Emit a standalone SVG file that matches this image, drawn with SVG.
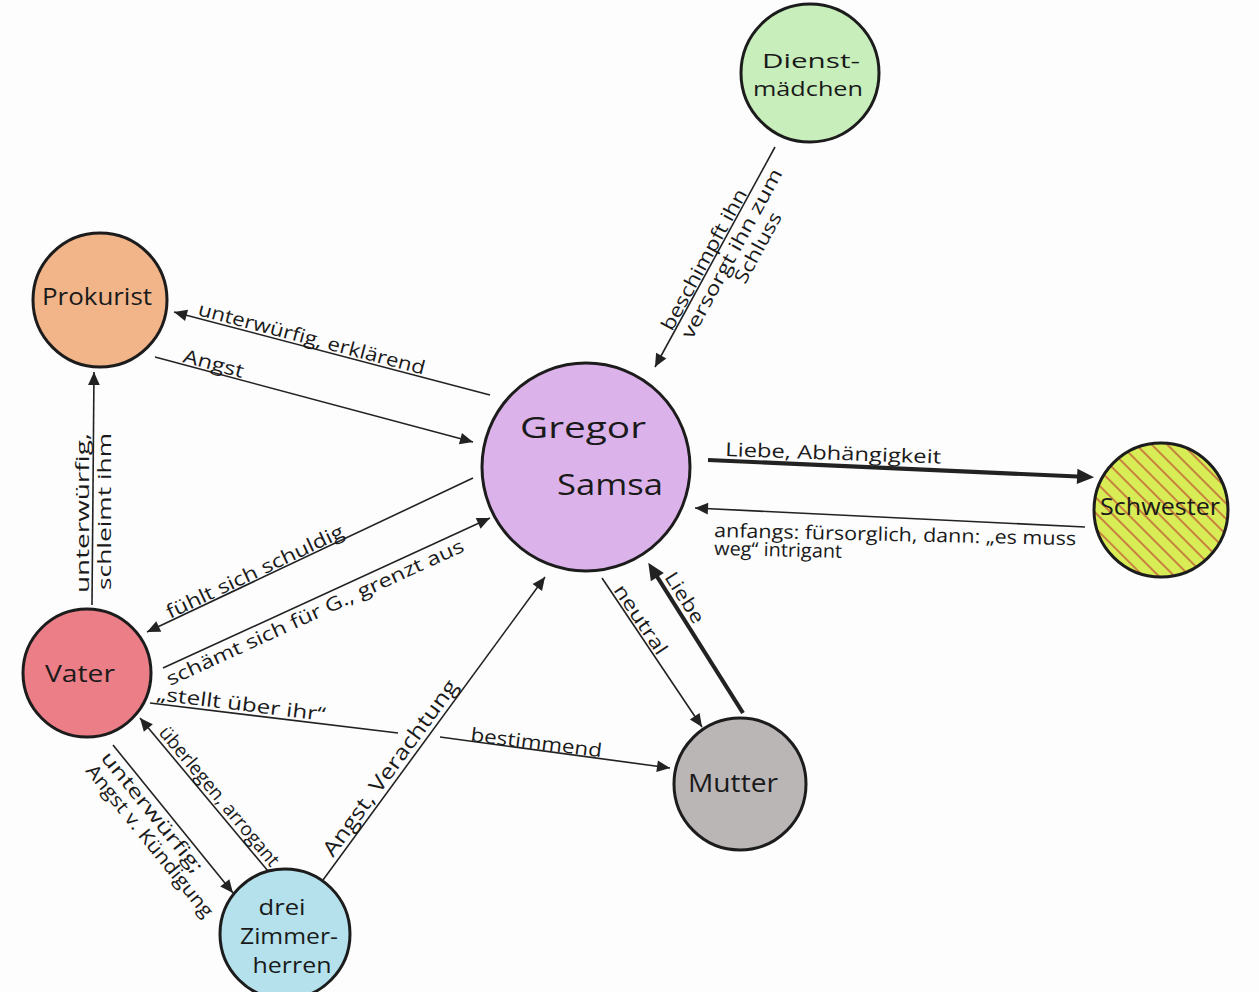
<svg xmlns="http://www.w3.org/2000/svg" width="1259" height="992" viewBox="0 0 1259 992">
<style>
.node{stroke:#1c1c1c;stroke-width:3}
.nl{font-family:"Open Sans","Liberation Sans",sans-serif;fill:#1a1a1a}
.el{font-family:"Open Sans","Liberation Sans",sans-serif;font-size:19px;fill:#1a1a1a}
.ln{stroke:#222;stroke-width:1.6;fill:none}
.thick{stroke:#222;stroke-width:4.2;fill:none}
</style>
<defs>
<marker id="ah" viewBox="0 0 10 10" refX="10" refY="5" markerWidth="16" markerHeight="13" markerUnits="userSpaceOnUse" orient="auto">
<path d="M0,0.5 L10,5 L0,9.5 z" fill="#222"/>
</marker>
<marker id="ahb" viewBox="0 0 10 10" refX="7" refY="5" markerWidth="20" markerHeight="17" markerUnits="userSpaceOnUse" orient="auto">
<path d="M0,0.5 L10,5 L0,9.5 z" fill="#222"/>
</marker>
<pattern id="hatch" width="11" height="11" patternUnits="userSpaceOnUse" patternTransform="rotate(-45)">
<line x1="5" y1="0" x2="5" y2="11" stroke="#c4673a" stroke-width="1.6"/>
</pattern>
</defs>
<rect width="1259" height="992" fill="#fdfdfd"/>

<g id="connectors">
<line class="ln" x1="775" y1="147" x2="655" y2="367" marker-end="url(#ah)"/>
<line class="ln" x1="490" y1="395" x2="174" y2="312" marker-end="url(#ah)"/>
<line class="ln" x1="155" y1="357" x2="473" y2="442" marker-end="url(#ah)"/>
<line class="ln" x1="92" y1="605" x2="94" y2="372" marker-end="url(#ah)"/>
<line class="ln" x1="473" y1="478" x2="147" y2="632" marker-end="url(#ah)"/>
<line class="ln" x1="163" y1="668" x2="490" y2="518" marker-end="url(#ah)"/>
<line class="ln" x1="150" y1="703" x2="398" y2="733"/>
<line class="ln" x1="440" y1="737" x2="670" y2="768" marker-end="url(#ah)"/>
<line class="ln" x1="323" y1="880" x2="545" y2="577" marker-end="url(#ah)"/>
<line class="ln" x1="113" y1="745" x2="233" y2="893" marker-end="url(#ah)"/>
<line class="ln" x1="273" y1="877" x2="140" y2="718" marker-end="url(#ah)"/>
<line class="ln" x1="602" y1="578" x2="702" y2="727" marker-end="url(#ah)"/>
<line class="thick" x1="743" y1="713" x2="651" y2="567" marker-end="url(#ahb)"/>
<line class="thick" x1="708" y1="460" x2="1089" y2="477" marker-end="url(#ahb)"/>
<line class="ln" x1="1085" y1="527" x2="695" y2="508" marker-end="url(#ah)"/>

<text class="el" x="672" y="332" transform="rotate(-61.4 672 332)" textLength="158" lengthAdjust="spacingAndGlyphs">beschimpft ihn</text>
<text class="el" x="692" y="340" transform="rotate(-61.4 692 340)" textLength="190" lengthAdjust="spacingAndGlyphs">versorgt ihn zum</text>
<text class="el" x="745" y="285" transform="rotate(-61.4 745 285)" textLength="78" lengthAdjust="spacingAndGlyphs">Schluss</text>

<text class="el" x="197" y="315" transform="rotate(14.8 197 315)" textLength="234" lengthAdjust="spacingAndGlyphs">unterwürfig, erklärend</text>
<text class="el" x="182" y="362" transform="rotate(15 182 362)" textLength="62" lengthAdjust="spacingAndGlyphs">Angst</text>

<text class="el" x="89" y="593" transform="rotate(-90 89 593)" textLength="160" lengthAdjust="spacingAndGlyphs">unterwürfig,</text>
<text class="el" x="111" y="590" transform="rotate(-90 111 590)" textLength="157" lengthAdjust="spacingAndGlyphs">schleimt ihm</text>

<text class="el" x="170" y="619" transform="rotate(-25.3 170 619)" textLength="194" lengthAdjust="spacingAndGlyphs">fühlt sich schuldig</text>
<text class="el" x="170" y="686" transform="rotate(-24.6 170 686)" textLength="325" lengthAdjust="spacingAndGlyphs">schämt sich für G., grenzt aus</text>

<text class="el" x="156" y="700" transform="rotate(7.1 156 700)" textLength="170" lengthAdjust="spacingAndGlyphs">„stellt über ihr“</text>
<text class="el" x="470" y="741" transform="rotate(7.1 470 741)" textLength="132" lengthAdjust="spacingAndGlyphs">bestimmend</text>

<text class="el" x="333" y="858" transform="rotate(-53.8 333 858)" textLength="213" lengthAdjust="spacingAndGlyphs" style="font-size:21px">Angst, Verachtung</text>

<text class="el" x="100" y="758" transform="rotate(51 100 758)" textLength="150" lengthAdjust="spacingAndGlyphs">unterwürfig;</text>
<text class="el" x="85" y="771" transform="rotate(51 85 771)" textLength="190" lengthAdjust="spacingAndGlyphs">Angst v. Kündigung</text>

<text class="el" x="158" y="733" transform="rotate(50.1 158 733)" textLength="176" lengthAdjust="spacingAndGlyphs">überlegen, arrogant</text>

<text class="el" x="613" y="590" transform="rotate(56.1 613 590)" textLength="80" lengthAdjust="spacingAndGlyphs">neutral</text>
<text class="el" x="664" y="577" transform="rotate(57.8 664 577)" textLength="57" lengthAdjust="spacingAndGlyphs">Liebe</text>

<text class="el" x="725" y="456" transform="rotate(2 725 456)" textLength="216" lengthAdjust="spacingAndGlyphs">Liebe, Abhängigkeit</text>
<text class="el" x="714" y="537" transform="rotate(1.3 714 537)" textLength="362" lengthAdjust="spacingAndGlyphs">anfangs: fürsorglich, dann: „es muss</text>
<text class="el" x="714" y="555" transform="rotate(1.3 714 555)" textLength="128" lengthAdjust="spacingAndGlyphs">weg“ intrigant</text>
</g>

<g id="dienstmaedchen">
<circle class="node" cx="810" cy="73" r="69" fill="#c8eebb"/>
<text class="nl" x="811" y="68" text-anchor="middle" font-size="20" textLength="98" lengthAdjust="spacingAndGlyphs">Dienst-</text>
<text class="nl" x="808" y="96" text-anchor="middle" font-size="20" textLength="110" lengthAdjust="spacingAndGlyphs">mädchen</text>
</g>

<g id="prokurist">
<circle class="node" cx="100" cy="300" r="67" fill="#f2b58a"/>
<text class="nl" x="97" y="305" text-anchor="middle" font-size="23" textLength="110" lengthAdjust="spacingAndGlyphs">Prokurist</text>
</g>

<g id="gregor">
<circle class="node" cx="586" cy="467" r="104" fill="#dcb2ea"/>
<text class="nl" x="583" y="438" text-anchor="middle" font-size="30" textLength="126" lengthAdjust="spacingAndGlyphs">Gregor</text>
<text class="nl" x="610" y="495" text-anchor="middle" font-size="30" textLength="106" lengthAdjust="spacingAndGlyphs">Samsa</text>
</g>

<g id="schwester">
<circle cx="1161" cy="510" r="67" fill="#d8ec55"/>
<circle class="node" cx="1161" cy="510" r="67" fill="url(#hatch)"/>
<text class="nl" x="1160" y="515" text-anchor="middle" font-size="24" textLength="120" lengthAdjust="spacingAndGlyphs">Schwester</text>
</g>

<g id="vater">
<circle class="node" cx="87" cy="673" r="64" fill="#ec7e88"/>
<text class="nl" x="80" y="682" text-anchor="middle" font-size="24" textLength="70" lengthAdjust="spacingAndGlyphs">Vater</text>
</g>

<g id="mutter">
<circle class="node" cx="740" cy="784" r="66" fill="#bab6b6"/>
<text class="nl" x="733" y="792" text-anchor="middle" font-size="26" textLength="90" lengthAdjust="spacingAndGlyphs">Mutter</text>
</g>

<g id="zimmerherren">
<circle class="node" cx="285" cy="934" r="65" fill="#b4e1ec"/>
<text class="nl" x="282" y="915" text-anchor="middle" font-size="21" textLength="47" lengthAdjust="spacingAndGlyphs">drei</text>
<text class="nl" x="289" y="944" text-anchor="middle" font-size="21" textLength="98" lengthAdjust="spacingAndGlyphs">Zimmer-</text>
<text class="nl" x="292" y="973" text-anchor="middle" font-size="21" textLength="79" lengthAdjust="spacingAndGlyphs">herren</text>
</g>
</svg>
